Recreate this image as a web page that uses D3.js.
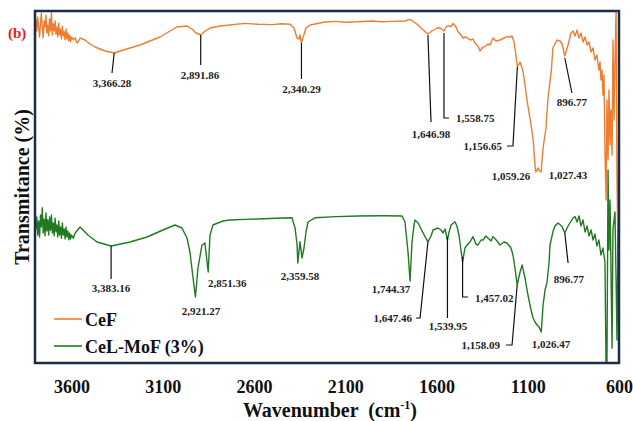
<!DOCTYPE html>
<html>
<head>
  <title>FTIR spectra</title>
  <style>
    body { margin: 0; background: #fff; }
    svg text { font-family: "Liberation Serif", "Times New Roman", serif; font-weight: bold; }
  </style>
</head>
<body>
  <svg width="633" height="421" class="svg-ftir"></svg>
<script src="https://cdnjs.cloudflare.com/ajax/libs/d3/7.8.5/d3.min.js"></script>
<script type="text/javascript">
  // [wavenumber, transmittance]
  var cefPoints = [
    [3800,96.5],[3795,97.8],[3790,95.0],[3785,98.5],[3780,96.0],[3775,93.5],[3770,97.0],[3765,99.5],
    [3760,95.5],[3755,93.3],[3750,97.5],[3745,96.0],[3740,99.0],[3735,94.5],[3730,96.5],[3725,93.8],
    [3720,98.0],[3715,95.0],[3710,99.6],[3705,94.0],[3700,96.8],[3695,95.0],[3690,97.5],[3685,94.2],
    [3680,96.0],[3675,93.5],[3670,97.0],[3665,94.0],[3660,95.5],[3655,93.0],[3650,96.2],[3645,93.8],
    [3640,94.8],[3635,92.8],[3630,95.5],[3625,93.0],[3620,94.5],[3615,92.5],[3610,94.0],[3605,92.3],
    [3600,93.5],[3590,92.8],[3580,93.3],[3570,92.0],[3560,92.5],[3553,93.25],[3526,92.75],[3499,91.75],
    [3471,91],[3444,90.5],[3416,90],[3389,89.75],[3366,89.5],[3334,90],[3279,90.75],[3225,91.5],
    [3170,92.5],[3115,93.5],[3060,95],[3022,96],[2967,96.25],[2940,95.5],[2918,94.5],[2892,94],
    [2874,94.75],[2841,95.75],[2786,96.25],[2732,96.5],[2650,96.9],[2578,96.7],[2500,96.6],[2450,96.8],
    [2403,96.7],[2381,95.75],[2364,93.25],[2353,93],[2348,94],[2340,92],[2332,93.25],[2315,95.75],
    [2293,96.5],[2211,97.25],[2150,97.4],[2100,97.2],[2030,97.3],[1950,97.5],[1900,97.3],[1844,97.4],
    [1773,97.5],[1745,97.9],[1723,97.25],[1701,96.5],[1679,95.5],[1647,94.25],[1625,95],[1597,95.75],
    [1581,95.8],[1559,95],[1548,96],[1537,96.3],[1520,96.1],[1509,96.9],[1493,96],[1482,94.8],
    [1466,94],[1455,93.25],[1438,93.5],[1416,92.75],[1400,93],[1389,92],[1373,91.25],[1362,90],
    [1345,91],[1334,91.1],[1318,91.75],[1307,91.5],[1290,93.25],[1274,92.5],[1252,92.75],[1230,93.25],
    [1214,93.6],[1197,93.5],[1186,93.75],[1175,92.25],[1167,89.75],[1157,86.1],[1142,87.25],[1126,85],
    [1115,81.5],[1104,77.75],[1088,73.25],[1071,68.25],[1059,60.75],[1055,59.75],[1044,60.75],[1036,60],
    [1027,59.75],[1016,65.75],[1000,70.75],[989,78.25],[971,85],[962,90.75],[940,92.75],[923,92.5],
    [912,91.75],[897,88.75],[879,91.5],[863,94.5],[852,95],[841,93.75],[830,95.25],[819,93.25],
    [808,94.5],[797,92.25],[786,93.5],[775,91.5],[764,92.25],[753,89.75],[742,90.75],[732,87.75],
    [721,89],[710,85.25],[704,87.25],[699,82.75],[693,85.25],[688,79],[682,84],[677,65.25],
    [671,52.75],[666,77.75],[660,62.75],[655,80.25],[649,66.5],[644,75.25],[638,64],[633,92.75],
    [627,72.75],[622,87.75],[616,100],[611,57.75],[605,38.5],[600,87.75]
  ]

  var celPoints = [
    [3800,47.0],[3795,45.5],[3790,48.5],[3785,44.0],[3780,47.5],[3775,43.5],[3770,49.0],[3765,46.0],
    [3760,50.8],[3755,44.5],[3750,48.0],[3745,43.8],[3740,49.5],[3735,45.0],[3730,47.8],[3725,44.0],
    [3720,48.5],[3715,45.2],[3710,49.0],[3705,44.5],[3700,47.0],[3695,43.8],[3690,48.2],[3685,44.8],
    [3680,46.5],[3675,43.5],[3670,47.5],[3665,44.0],[3660,46.0],[3655,43.2],[3650,47.0],[3645,44.0],
    [3640,45.5],[3635,43.0],[3630,46.0],[3625,43.5],[3620,45.0],[3615,42.8],[3610,44.5],[3605,43.0],
    [3600,44.0],[3590,43.2],[3580,44.5],[3553,46],[3510,44],[3460,42.25],[3383,41.25],[3279,42.25],
    [3186,43.5],[3099,45.25],[3033,46.5],[2995,45.75],[2967,43.25],[2951,39.75],[2934,33.25],[2921,28.5],
    [2907,35.75],[2885,41.5],[2869,42],[2851,34.75],[2841,44],[2825,46.5],[2770,47.5],[2732,47.75],
    [2650,47.9],[2578,48],[2480,48.2],[2392,48.3],[2375,45.75],[2364,41.5],[2360,37],[2348,42.3],
    [2337,38.25],[2326,40.75],[2315,44.75],[2304,47.25],[2266,48.3],[2150,48.6],[2030,48.75],[1900,48.8],
    [1789,48.75],[1773,47.3],[1756,39.75],[1745,32.5],[1734,42.3],[1723,46.5],[1718,47.75],[1701,47],
    [1690,46],[1663,43.6],[1647,42.3],[1630,43.75],[1619,45.25],[1592,45.75],[1575,45.25],[1564,44.5],
    [1553,45.5],[1540,42.75],[1531,44.75],[1520,46.5],[1499,47.3],[1488,46.25],[1477,44],[1466,40.25],
    [1457,37.3],[1444,40.75],[1427,41.75],[1416,42.3],[1400,43.6],[1384,41.75],[1373,41.5],[1356,42.75],
    [1345,42.75],[1329,43.75],[1318,43.25],[1301,42.5],[1290,43.6],[1268,42.5],[1252,41.5],[1230,42.25],
    [1214,42],[1192,40.75],[1181,39],[1170,35.75],[1158,31.5],[1142,34.75],[1131,36.5],[1115,33.25],
    [1099,29],[1082,25.25],[1071,23.25],[1060,22.25],[1049,21.5],[1038,21],[1026,19.75],[1016,26.5],
    [1005,30.25],[994,32.3],[983,37.25],[978,41.5],[962,44.8],[951,46.25],[934,47],[912,46.1],
    [897,44.5],[879,46.25],[869,47],[852,48.25],[841,48.6],[830,47.25],[819,48.75],[808,46.25],
    [797,47.75],[786,44.75],[775,46.25],[764,43.75],[753,45.25],[742,42.75],[732,44.25],[721,41.25],
    [710,42.75],[699,39],[688,40.75],[677,37.25],[671,11.5],[666,12],[660,60.25],[655,40.25],
    [649,52.75],[638,15.75],[633,45.5],[622,49.75],[616,32.75],[611,17.75],[605,45.25],[600,37.75]
  ]

  var seriesNames = ['CeF', 'CeL-MoF (3%)']
  var seriesColors = ['#ed7d31', '#217a21']
  var xTicks = [3600, 3100, 2600, 2100, 1600, 1100, 600]

  // peak labels: leader line points and text spot, all in [wavenumber, transmittance]
  var cefPeaks = [
    {label: '3,366.28', line: [[3366, 89.5], [3378, 84.5]], at: [3378, 81], anchor: 'middle'},
    {label: '2,891.86', line: [[2892, 94], [2892, 86.5]], at: [2896, 83], anchor: 'middle'},
    {label: '2,340.29', line: [[2340, 92], [2340, 83]], at: [2340, 79.5], anchor: 'middle'},
    {label: '1,646.98', line: [[1647, 94], [1630, 72.25]], at: [1630, 68.25], anchor: 'middle'},
    {label: '1,558.75', line: [[1559, 94.5], [1559, 73.25], [1532, 73.25]], at: [1493, 72.25], anchor: 'start'},
    {label: '1,156.65', line: [[1157, 86], [1181, 66.25], [1214, 66.25]], at: [1241, 65.25], anchor: 'end'},
    {label: '1,059.26', line: null, at: [1192, 57.75], anchor: 'middle'},
    {label: '1,027.43', line: null, at: [879, 58], anchor: 'middle'},
    {label: '896.77', line: [[897, 88.25], [858, 79.5]], at: [858, 76.25], anchor: 'middle'}
  ]

  var celPeaks = [
    {label: '3,383.16', line: [[3383, 41.25], [3383, 33]], at: [3383, 29.75], anchor: 'middle'},
    {label: '2,921.27', line: null, at: [2890, 24], anchor: 'middle'},
    {label: '2,851.36', line: null, at: [2852, 31], anchor: 'start'},
    {label: '2,359.58', line: null, at: [2348, 32.75], anchor: 'middle'},
    {label: '1,744.37', line: null, at: [1849, 29.5], anchor: 'middle'},
    {label: '1,647.46', line: [[1647, 42.25], [1690, 23.25], [1712, 23.25]], at: [1734, 22.25], anchor: 'end'},
    {label: '1,539.95', line: [[1540, 43.5], [1540, 23.25]], at: [1537, 20.25], anchor: 'middle'},
    {label: '1,457.02', line: [[1457, 38.5], [1457, 28.5], [1427, 28.5]], at: [1389, 27.25], anchor: 'start'},
    {label: '1,158.09', line: [[1158, 31.5], [1186, 16.5], [1219, 16.5]], at: [1252, 15.5], anchor: 'end'},
    {label: '1,026.47', line: null, at: [973, 15.75], anchor: 'middle'},
    {label: '896.77', line: [[897, 44.5], [879, 37]], at: [874, 32], anchor: 'middle'}
  ]

  var svg = d3.select('.svg-ftir')
  var margin = {top: 11, right: 14, bottom: 58, left: 35}
  var width = +svg.attr('width') - margin.left - margin.right
  var height = +svg.attr('height') - margin.top - margin.bottom

  var x = d3.scaleLinear().domain([3800, 600]).range([0, width])
  var y = d3.scaleLinear().domain([12, 100]).range([height, 0])

  var g = svg.append('g').attr('transform', 'translate(' + margin.left + ',' + margin.top + ')')

  svg.append('clipPath').attr('id', 'plot-clip')
    .append('rect').attr('width', width).attr('height', height)

  var line = d3.line()
    .x(function(d){ return x(d[0]) })
    .y(function(d){ return y(d[1]) })

  var plot = g.append('g').attr('clip-path', 'url(#plot-clip)')

  plot.selectAll('path.spectrum')
    .data([cefPoints, celPoints])
    .enter()
    .append('path')
    .attr('class', 'spectrum')
    .attr('d', line)
    .attr('fill', 'none')
    .attr('stroke', function(d, i){ return seriesColors[i] })
    .attr('stroke-width', 1.4)
    .attr('stroke-linejoin', 'round')

  // peak annotations
  var peaks = cefPeaks.concat(celPeaks)
  g.selectAll('path.leader')
    .data(peaks.filter(function(p){ return p.line }))
    .enter()
    .append('path')
    .attr('class', 'leader')
    .attr('d', function(p){ return line(p.line) })
    .attr('fill', 'none')
    .attr('stroke', '#111')
    .attr('stroke-width', 1.2)

  g.selectAll('text.peak')
    .data(peaks)
    .enter()
    .append('text')
    .attr('class', 'peak')
    .attr('x', function(p){ return x(p.at[0]) })
    .attr('y', function(p){ return y(p.at[1]) })
    .attr('text-anchor', function(p){ return p.anchor })
    .attr('font-size', 11)
    .attr('fill', '#222')
    .text(function(p){ return p.label })

  // x axis, labels only
  var xAxis = d3.axisBottom(x).tickValues(xTicks).tickSize(0).tickPadding(17).tickFormat(d3.format('d'))
  var ax = g.append('g').attr('transform', 'translate(0,' + height + ')').call(xAxis)
  ax.select('.domain').remove()
  ax.selectAll('text')
    .attr('font-size', 18)
    .attr('fill', '#111')

  // frame
  g.append('rect')
    .attr('width', width)
    .attr('height', height)
    .attr('fill', 'none')
    .attr('stroke', '#1b2e48')
    .attr('stroke-width', 2.5)

  // legend
  var legend = g.selectAll('g.legend')
    .data(seriesNames)
    .enter()
    .append('g')
    .attr('class', 'legend')
    .attr('transform', function(d, i){ return 'translate(19,' + (308 + i * 27) + ')' })
  legend.append('line')
    .attr('x1', 0).attr('x2', 28)
    .attr('stroke', function(d, i){ return seriesColors[i] })
    .attr('stroke-width', 1.6)
  legend.append('text')
    .attr('x', 31).attr('y', 7)
    .attr('font-size', 18)
    .attr('fill', '#111')
    .text(function(d){ return d })

  // axis titles
  var xTitle = svg.append('text')
    .attr('x', margin.left + width / 2 + 3)
    .attr('y', 417)
    .attr('text-anchor', 'middle')
    .attr('font-size', 20)
    .attr('fill', '#111')
    .attr('xml:space', 'preserve')
  xTitle.append('tspan').text('Wavenumber  (cm')
  xTitle.append('tspan').attr('font-size', 12).attr('dy', -8).text('-1')
  xTitle.append('tspan').attr('dy', 8).text(')')

  svg.append('text')
    .attr('transform', 'translate(29,' + (margin.top + height / 2) + ') rotate(-90)')
    .attr('text-anchor', 'middle')
    .attr('font-size', 20)
    .attr('fill', '#111')
    .text('Transmitance (%)')

  svg.append('text')
    .attr('x', 8)
    .attr('y', 38)
    .attr('font-size', 15)
    .attr('fill', '#f01818')
    .text('(b)')
</script>
</body>
</html>
